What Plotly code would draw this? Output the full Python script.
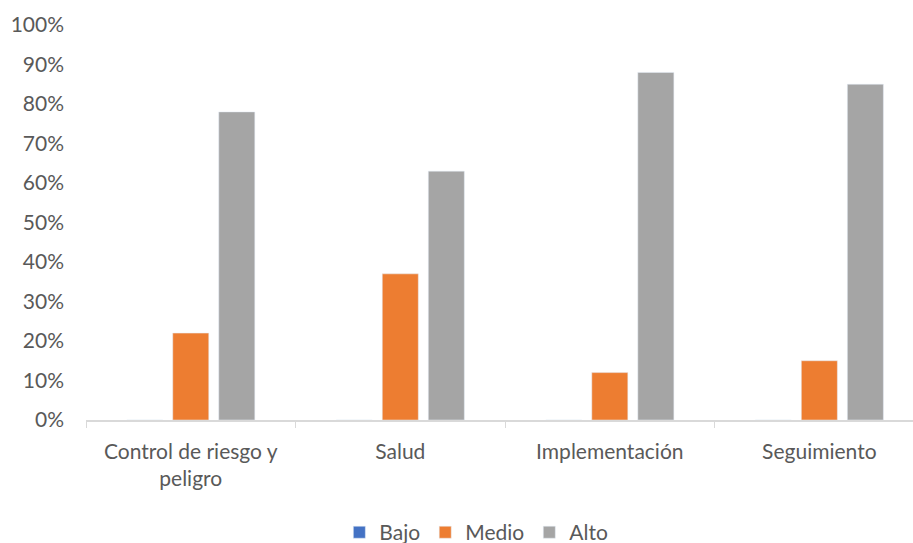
import plotly.graph_objects as go

categories = ["Control de riesgo y<br>peligro", "Salud", "Implementación", "Seguimiento"]
bajo = [0, 0, 0, 0]
medio = [0.22, 0.37, 0.12, 0.15]
alto = [0.78, 0.63, 0.88, 0.85]
y_ticks = [0, 0.1, 0.2, 0.3, 0.4, 0.5, 0.6, 0.7, 0.8, 0.9, 1.0]

font_family = "Lato, 'Open Sans', sans-serif"
txt_color = "#595959"
fs = 21

fig = go.Figure()
fig.add_trace(go.Bar(name="Bajo", x=categories, y=bajo, marker_color="#4472C4"))
fig.add_trace(go.Bar(name="Medio", x=categories, y=medio, marker_color="#ED7D31"))
fig.add_trace(go.Bar(name="Alto", x=categories, y=alto, marker_color="#A5A5A5"))

fig.update_layout(
    width=913, height=543,
    margin=dict(l=86, r=0, t=25, b=123, autoexpand=False),
    paper_bgcolor="white", plot_bgcolor="white",
    barmode="group", bargap=0.341, bargroupgap=0.217,
    font=dict(family=font_family, size=fs, color=txt_color),
    showlegend=True,
    legend=dict(orientation="h", x=0.472, xanchor="center", y=-0.285, yanchor="middle",
                font=dict(size=fs, color=txt_color), itemwidth=30, traceorder="normal",
                tracegroupgap=0),
)
fig.update_xaxes(
    range=[-0.5, 3.447], showline=True, linecolor="#D9D9D9", linewidth=1.5,
    ticks="outside", tickson="boundaries", ticklen=6, tickcolor="#D9D9D9",
    showgrid=False, tickfont=dict(size=fs, color=txt_color), ticklabelstandoff=12,
)
fig.update_yaxes(
    range=[0, 1.0], tickvals=y_ticks, tickformat=".0%", showgrid=False,
    zeroline=False, showline=False, ticks="", ticklabelstandoff=21,
    tickfont=dict(size=fs, color=txt_color),
)
fig.write_html("out.html")
